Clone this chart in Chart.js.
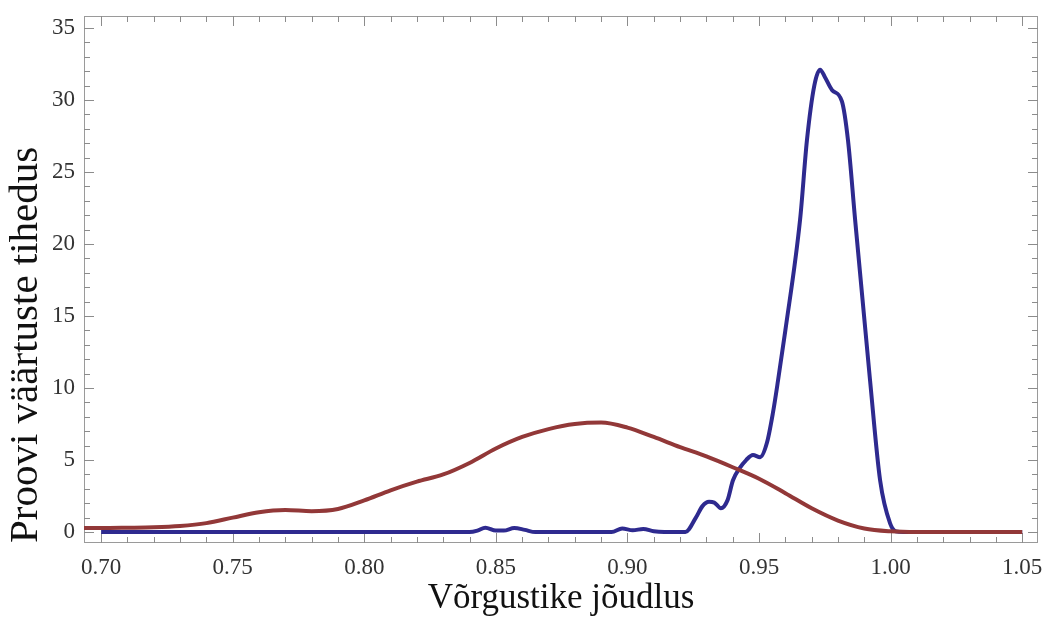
<!DOCTYPE html>
<html>
<head>
<meta charset="utf-8">
<script src="https://cdn.jsdelivr.net/npm/chart.js@4"></script>
<style>
  html, body { margin: 0; padding: 0; background: #ffffff; }
  #wrap { width: 1043px; height: 617px; }
</style>
</head>
<body>
<div id="wrap"><canvas id="c" width="1043" height="617"></canvas></div>
<script>
// ---- Data ----
const redX = [0.6935, 0.70, 0.71, 0.72, 0.73, 0.74, 0.75, 0.76, 0.77, 0.78, 0.79, 0.80, 0.81, 0.82, 0.83, 0.84, 0.85, 0.86, 0.87, 0.88, 0.89, 0.90, 0.91, 0.92, 0.93, 0.94, 0.95, 0.96, 0.97, 0.98, 0.99, 1.00, 1.01, 1.05];
const redY = [0.28, 0.28, 0.30, 0.33, 0.42, 0.62, 1.00, 1.38, 1.53, 1.45, 1.60, 2.20, 2.90, 3.50, 4.00, 4.80, 5.80, 6.60, 7.15, 7.50, 7.60, 7.25, 6.60, 5.90, 5.25, 4.50, 3.70, 2.70, 1.65, 0.80, 0.25, 0.05, 0.00, 0.00];

const blueX = [0.70, 0.840, 0.843, 0.846, 0.850, 0.853, 0.857, 0.861, 0.865, 0.894, 0.898, 0.902, 0.906, 0.910, 0.914, 0.922, 0.926, 0.9285, 0.931, 0.933, 0.9355, 0.938, 0.9401, 0.9425, 0.9451, 0.9477, 0.9504, 0.9530, 0.9553, 0.9572, 0.9600, 0.9656, 0.9682, 0.9710, 0.9732, 0.9750, 0.9777, 0.9815, 0.9838, 0.9865, 0.9922, 0.9960, 0.9998, 1.002, 1.005, 1.05];
const blueY = [0.00, 0.00, 0.10, 0.30, 0.10, 0.10, 0.28, 0.15, 0.00, 0.00, 0.25, 0.12, 0.22, 0.05, 0.00, 0.00, 1.00, 1.80, 2.10, 2.05, 1.65, 2.20, 3.60, 4.40, 5.00, 5.35, 5.20, 6.20, 8.30, 10.5, 14.0, 21.7, 27.2, 31.0, 32.1, 31.6, 30.7, 29.9, 27.2, 21.7, 10.5, 3.60, 0.60, 0.05, 0.00, 0.00];

const xMajorTicks = [0.70, 0.75, 0.80, 0.85, 0.90, 0.95, 1.00, 1.05];
const xMinorTicks = [0.70, 0.71, 0.72, 0.73, 0.74, 0.75, 0.76, 0.77, 0.78, 0.79, 0.80, 0.81, 0.82, 0.83, 0.84, 0.85, 0.86, 0.87, 0.88, 0.89, 0.90, 0.91, 0.92, 0.93, 0.94, 0.95, 0.96, 0.97, 0.98, 0.99, 1.00, 1.01, 1.02, 1.03, 1.04, 1.05];
const yMajorTicks = [0, 5, 10, 15, 20, 25, 30, 35];
const yMinorTicks = [0, 1, 2, 3, 4, 5, 6, 7, 8, 9, 10, 11, 12, 13, 14, 15, 16, 17, 18, 19, 20, 21, 22, 23, 24, 25, 26, 27, 28, 29, 30, 31, 32, 33, 34, 35];

const xTitle = 'Võrgustike jõudlus';
const yTitle = 'Proovi väärtuste tihedus';

const toPoints = (xs, ys) => xs.map((x, i) => ({ x: x, y: ys[i] }));

// Frame + inward ticks on all four sides, positioned by the chart's scales
const framePlugin = {
  id: 'frameTicks',
  beforeDatasetsDraw(chart) {
    const { ctx, chartArea: a, scales } = chart;
    const xs = scales.x, ys = scales.y;
    ctx.save();
    ctx.strokeStyle = '#9a9a9a';
    ctx.lineWidth = 1;
    ctx.strokeRect(a.left + 0.5, a.top + 0.5, a.right - a.left - 1, a.bottom - a.top - 1);
    ctx.strokeStyle = '#8c8c8c';
    const major = 10, minor = 6;
    ctx.beginPath();
    xMinorTicks.forEach(v => {
      const px = Math.round(xs.getPixelForValue(v)) + 0.5;
      const len = xMajorTicks.some(m => Math.abs(m - v) < 1e-9) ? major : minor;
      ctx.moveTo(px, a.bottom); ctx.lineTo(px, a.bottom - len);
      ctx.moveTo(px, a.top); ctx.lineTo(px, a.top + len);
    });
    yMinorTicks.forEach(v => {
      const py = Math.round(ys.getPixelForValue(v)) + 0.5;
      const len = yMajorTicks.includes(v) ? major : minor;
      ctx.moveTo(a.left, py); ctx.lineTo(a.left + len, py);
      ctx.moveTo(a.right, py); ctx.lineTo(a.right - len, py);
    });
    ctx.stroke();
    ctx.restore();
  }
};

new Chart(document.getElementById('c'), {
  type: 'line',
  data: {
    datasets: [
      {
        label: 'red',
        data: toPoints(redX, redY),
        borderColor: '#923838',
        borderWidth: 4,
        pointRadius: 0,
        fill: false,
        cubicInterpolationMode: 'monotone'
      },
      {
        label: 'blue',
        data: toPoints(blueX, blueY),
        borderColor: '#2e2a8f',
        borderWidth: 4,
        pointRadius: 0,
        fill: false,
        cubicInterpolationMode: 'monotone'
      }
    ]
  },
  options: {
    responsive: false,
    animation: false,
    devicePixelRatio: 1,
    layout: { padding: { top: 16, right: 5, left: 0, bottom: 0 } },
    plugins: { legend: { display: false }, tooltip: { enabled: false } },
    scales: {
      x: {
        type: 'linear',
        min: 0.6935,
        max: 1.056,
        grid: { display: false, drawTicks: false },
        border: { display: false },
        afterBuildTicks: s => { s.ticks = xMajorTicks.map(v => ({ value: v })); },
        afterFit: s => { s.height = 74; s.paddingLeft = 0; s.paddingRight = 0; },
        ticks: {
          autoSkip: false,
          maxRotation: 0,
          padding: 11,
          color: '#333333',
          font: { family: '"Liberation Serif", "DejaVu Serif", serif', size: 23 },
          callback: v => Number(v).toFixed(2)
        },
        title: {
          display: true,
          text: xTitle,
          color: '#111111',
          padding: { top: 0, bottom: -3 },
          font: { family: '"Liberation Serif", "DejaVu Serif", serif', size: 35 }
        }
      },
      y: {
        type: 'linear',
        min: -0.76,
        max: 35.83,
        grid: { display: false, drawTicks: false },
        border: { display: false },
        afterBuildTicks: s => { s.ticks = yMajorTicks.map(v => ({ value: v })); },
        afterFit: s => { s.width = 84; s.paddingTop = 0; s.paddingBottom = 0; },
        ticks: {
          autoSkip: false,
          padding: 9,
          color: '#333333',
          font: { family: '"Liberation Serif", "DejaVu Serif", serif', size: 23 },
          callback: v => String(v)
        },
        title: {
          display: true,
          text: yTitle,
          align: 'start',
          color: '#111111',
          padding: { top: 2, bottom: 0 },
          font: { family: '"Liberation Serif", "DejaVu Serif", serif', size: 41 }
        }
      }
    }
  },
  plugins: [framePlugin]
});
</script>
</body>
</html>
